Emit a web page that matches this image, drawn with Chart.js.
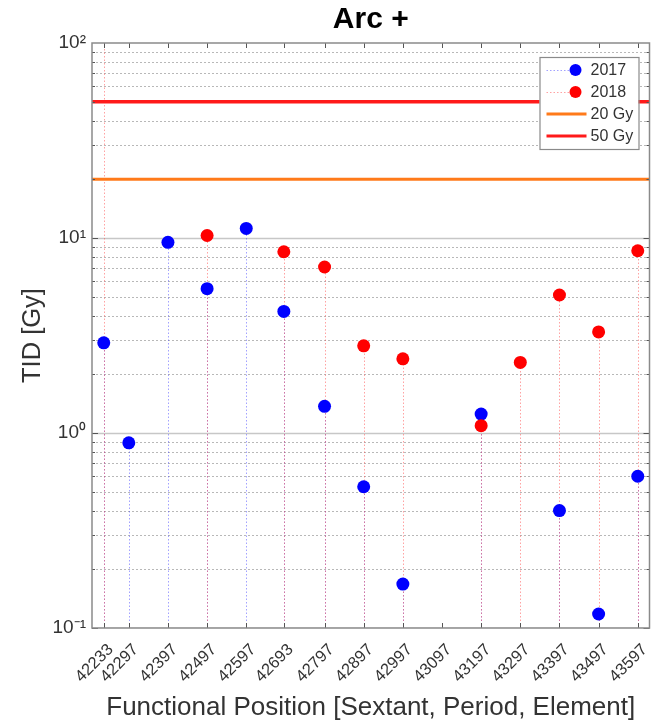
<!DOCTYPE html>
<html>
<head>
<meta charset="utf-8">
<script src="https://cdn.jsdelivr.net/npm/chart.js@4/dist/chart.umd.min.js"></script>
<style>
  html, body { margin: 0; padding: 0; background: #fff; }
</style>
</head>
<body>
<canvas id="chart" width="656" height="723"></canvas>
<script>
// Data
const positions = [42233, 42297, 42397, 42497, 42597, 42693, 42797, 42897, 42997, 43097, 43197, 43297, 43397, 43497, 43597];
const tid2017 = [2.9, 0.89, 9.5, 5.5, 11.2, 4.2, 1.37, 0.53, 0.168, null, 1.25, null, 0.40, 0.118, 0.60];
// 42233 (2018) is off the top of the scale: only its stem shows
const tid2018 = [1000, null, null, 10.3, null, 8.5, 7.1, 2.8, 2.4, null, 1.09, 2.3, 5.1, 3.3, 8.6];
const limitValues = [20, 50];
const limitLabels = ["20 Gy", "50 Gy"];
const seriesLabels = ["2017", "2018"];
const yDecades = [0.1, 1, 10, 100];
const yTickLabels = ["10\u207B\u00B9", "10\u2070", "10\u00B9", "10\u00B2"];

const xMin = 42203, xMax = 43627;
const FONT = "'Liberation Sans', Arial, sans-serif";

function points(vals) {
  return positions.map((x, i) => ({ x: x, y: vals[i] })).filter(p => p.y != null);
}

// grid + stems under the marks, box/ticks/legend on top
const underlay = {
  id: "underlay",
  beforeDatasetsDraw(chart) {
    const { ctx, chartArea: a, scales: { x, y } } = chart;
    ctx.save();
    ctx.beginPath();
    ctx.rect(a.left, a.top, a.right - a.left, a.bottom - a.top);
    ctx.clip();
    // log grid
    for (let d = -1; d < 2; d++) {
      for (let m = 1; m <= 9; m++) {
        const py = Math.round(y.getPixelForValue(m * Math.pow(10, d))) + 0.5;
        ctx.beginPath();
        if (m === 1) {
          ctx.setLineDash([]);
          ctx.strokeStyle = "rgba(0,0,0,0.22)";
          ctx.lineWidth = 1.5;
        } else {
          ctx.setLineDash([2, 2]);
          ctx.strokeStyle = "rgba(0,0,0,0.28)";
          ctx.lineWidth = 1;
        }
        ctx.moveTo(a.left, py);
        ctx.lineTo(a.right, py);
        ctx.stroke();
      }
    }
    // stems
    chart.data.datasets.forEach(ds => {
      if (!ds.stemColor) return;
      ctx.setLineDash([1.5, 2]);
      ctx.strokeStyle = ds.stemColor;
      ctx.lineWidth = 1;
      ds.data.forEach(p => {
        const px = Math.round(x.getPixelForValue(p.x)) + 0.5;
        const py = Math.max(a.top, y.getPixelForValue(p.y));
        ctx.beginPath();
        ctx.moveTo(px, a.bottom);
        ctx.lineTo(px, py);
        ctx.stroke();
      });
    });
    ctx.restore();
  },
  afterDraw(chart) {
    const { ctx, chartArea: a, scales: { x, y } } = chart;
    ctx.save();
    ctx.setLineDash([]);
    // ticks inward
    ctx.strokeStyle = "#555";
    ctx.lineWidth = 1;
    positions.forEach(v => {
      const px = Math.round(x.getPixelForValue(v)) + 0.5;
      ctx.beginPath();
      ctx.moveTo(px, a.bottom); ctx.lineTo(px, a.bottom - 5);
      ctx.moveTo(px, a.top); ctx.lineTo(px, a.top + 5);
      ctx.stroke();
    });
    for (let d = -1; d < 2; d++) {
      for (let m = 1; m <= 9; m++) {
        const py = Math.round(y.getPixelForValue(m * Math.pow(10, d))) + 0.5;
        const len = m === 1 ? 6 : 3;
        ctx.beginPath();
        ctx.moveTo(a.left, py); ctx.lineTo(a.left + len, py);
        ctx.moveTo(a.right, py); ctx.lineTo(a.right - len, py);
        ctx.stroke();
      }
    }
    // box
    ctx.strokeStyle = "#8a8a8a";
    ctx.lineWidth = 1.5;
    ctx.strokeRect(a.left, a.top, a.right - a.left, a.bottom - a.top);

    // legend
    const w = 99, h = 92;
    const lx = a.right - 11 - w, ly = a.top + 14;
    ctx.fillStyle = "#fff";
    ctx.fillRect(lx, ly, w, h);
    ctx.strokeStyle = "#8a8a8a";
    ctx.lineWidth = 1.2;
    ctx.strokeRect(lx + 0.5, ly + 0.5, w, h);
    ctx.font = "16px " + FONT;
    ctx.textBaseline = "middle";
    chart.data.datasets.forEach((ds, i) => {
      const cy = ly + 13 + i * 22;
      if (ds.stemColor) {
        ctx.setLineDash([1.5, 2]);
        ctx.strokeStyle = ds.stemColor;
        ctx.lineWidth = 1;
        ctx.beginPath();
        ctx.moveTo(lx + 7, cy + 0.5); ctx.lineTo(lx + 40, cy + 0.5);
        ctx.stroke();
        ctx.setLineDash([]);
        ctx.fillStyle = ds.backgroundColor;
        ctx.beginPath();
        ctx.arc(lx + 36, cy, 6, 0, Math.PI * 2);
        ctx.fill();
      } else {
        ctx.setLineDash([]);
        ctx.strokeStyle = ds.borderColor;
        ctx.lineWidth = 3;
        ctx.beginPath();
        ctx.moveTo(lx + 7, cy); ctx.lineTo(lx + 47, cy);
        ctx.stroke();
      }
      ctx.fillStyle = "#333";
      ctx.fillText(ds.label, lx + 51, cy + 1);
    });
    ctx.restore();
  }
};

const markerDataset = (label, vals, color, stem, order) => ({
  type: "line",
  label: label,
  data: points(vals),
  showLine: false,
  pointRadius: 6.5,
  pointHoverRadius: 6.5,
  pointBorderWidth: 0,
  backgroundColor: color,
  borderColor: color,
  stemColor: stem,
  order: order
});

const limitDataset = (label, value, color, width, order) => ({
  type: "line",
  label: label,
  data: [{ x: xMin, y: value }, { x: xMax, y: value }],
  borderColor: color,
  borderWidth: width,
  pointRadius: 0,
  order: order
});

new Chart(document.getElementById("chart"), {
  type: "line",
  data: {
    datasets: [
      markerDataset(seriesLabels[0], tid2017, "#0000ff", "rgba(70,70,255,0.5)", 1),
      markerDataset(seriesLabels[1], tid2018, "#ff0000", "rgba(255,70,70,0.5)", 0),
      limitDataset(limitLabels[0], limitValues[0], "#ff7a1a", 3, 3),
      limitDataset(limitLabels[1], limitValues[1], "#ff1a1a", 3.5, 2)
    ]
  },
  options: {
    responsive: false,
    devicePixelRatio: 1,
    animation: false,
    layout: { padding: { right: 5, left: 0, bottom: 0 } },
    plugins: {
      legend: { display: false },
      tooltip: { enabled: false },
      title: {
        display: true,
        fullSize: false,
        text: "Arc +",
        color: "#000",
        font: { family: FONT, size: 30, weight: "bold" },
        padding: { top: 2, bottom: 5 }
      }
    },
    scales: {
      x: {
        type: "linear",
        min: xMin,
        max: xMax,
        afterBuildTicks: s => { s.ticks = positions.map(v => ({ value: v })); },
        afterFit: s => { s.height = 95; s.paddingLeft = 0; s.paddingRight = 0; },
        grid: { display: false, drawTicks: false },
        border: { display: false },
        ticks: {
          autoSkip: false,
          minRotation: 45,
          maxRotation: 45,
          padding: 12,
          labelOffset: 7,
          color: "#333",
          font: { family: FONT, size: 16.5 },
          callback: v => String(v)
        },
        title: {
          display: true,
          text: "Functional Position [Sextant, Period, Element]",
          color: "#333",
          font: { family: FONT, size: 26 },
          padding: { top: 0, bottom: 0 }
        }
      },
      y: {
        type: "logarithmic",
        min: 0.1,
        max: 100,
        afterBuildTicks: s => { s.ticks = yDecades.map(v => ({ value: v, major: true })); },
        afterFit: s => { s.width = 92; },
        grid: { display: false, drawTicks: false },
        border: { display: false },
        ticks: {
          padding: 6,
          color: "#333",
          font: { family: FONT, size: 19 },
          callback: v => yTickLabels[yDecades.indexOf(v)]
        },
        title: {
          display: true,
          text: "TID [Gy]",
          color: "#333",
          font: { family: FONT, size: 25.5 },
          padding: { top: 18, bottom: 0 }
        }
      }
    }
  },
  plugins: [underlay]
});
</script>
</body>
</html>
